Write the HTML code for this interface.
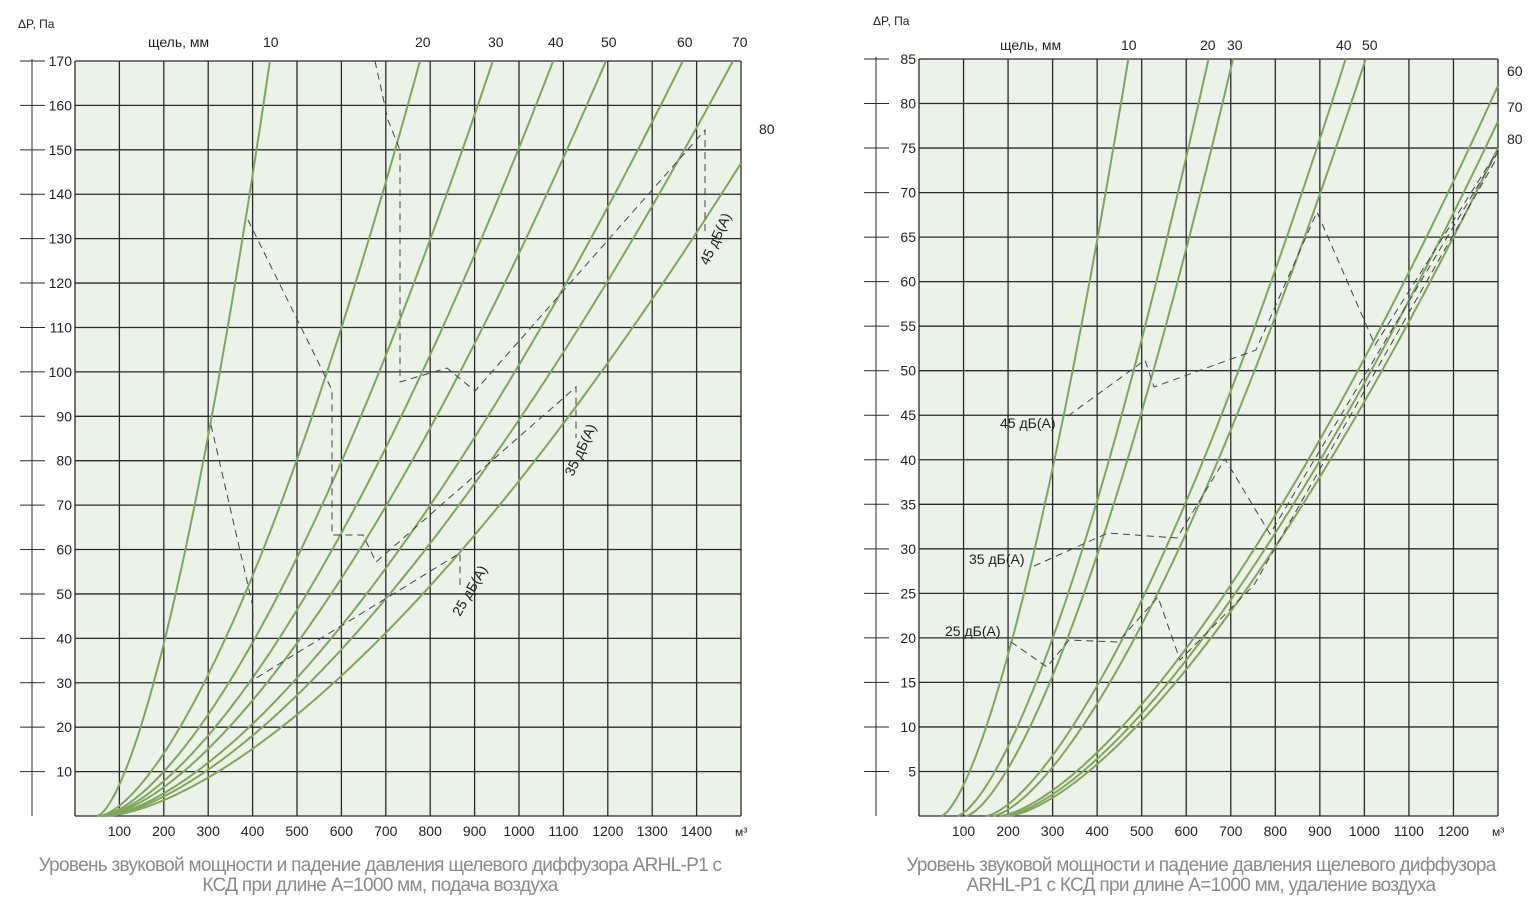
<!DOCTYPE html>
<html><head><meta charset="utf-8"><style>
html,body{margin:0;padding:0;background:#fff;}
svg{display:block;font-family:"Liberation Sans",Arial,sans-serif;}
.t{font-size:14px;fill:#222;}
.s{font-size:12px;fill:#222;}
.cap{font-size:19px;fill:#8a8a8a;letter-spacing:-0.7px;}
</style></head><body>
<svg id="c" width="1536" height="909" viewBox="0 0 1536 909" xmlns="http://www.w3.org/2000/svg">
<rect x="75" y="61" width="666" height="755" fill="#ebf2e8"/>
<rect x="919" y="59" width="579" height="757" fill="#ebf2e8"/>
<g id="grid" stroke="#2a2a2a" stroke-width="1.3" fill="none"></g>
<g id="curves" stroke="#7ea65e" stroke-width="2" fill="none"></g>
<g id="dash" stroke="#444" stroke-width="1" fill="none" stroke-dasharray="7,5">
<polyline points="375,61 388,120 400,150 400,382 447,368 475,391 705,130 705,232"/>
<polyline points="248,220 332,390 332,535 363,535 376,562 576,387 576,438"/>
<polyline points="211,425 253,607 253,680 460,553 460,585"/>
<polyline points="1068,416 1145,360 1154,387 1256,350 1317,212 1375,345 1498,150"/>
<polyline points="1034,566 1108,533 1177,538 1225,459 1270,534 1498,152"/>
<polyline points="1011,642 1047,667 1069,640 1118,642 1158,597 1180,660 1254,585 1498,156"/>
</g>
<g class="t">
<text x="18" y="28" class="s">ΔP, Па</text>
<text x="148" y="47">щель, мм</text>
<text x="263" y="47">10</text><text x="415" y="47">20</text><text x="488" y="47">30</text><text x="548" y="47">40</text><text x="601" y="47">50</text><text x="677" y="47">60</text><text x="732" y="47">70</text>
<text x="759" y="134">80</text>
<text x="873" y="25" class="s">ΔP, Па</text>
<text x="1000" y="50">щель, мм</text>
<text x="1121" y="50">10</text><text x="1200" y="50">20</text><text x="1227" y="50">30</text><text x="1336" y="50">40</text><text x="1362" y="50">50</text>
<text x="1507" y="76">60</text><text x="1507" y="112">70</text><text x="1507" y="144">80</text>
<text x="1000" y="428">45 дБ(А)</text>
<text x="969" y="564">35 дБ(А)</text>
<text x="945" y="636">25 дБ(А)</text>
<text transform="translate(708,266) rotate(-65)">45 дБ(А)</text>
<text transform="translate(573,477) rotate(-65)">35 дБ(А)</text>
<text transform="translate(460,617) rotate(-60)">25 дБ(А)</text>
</g>
<g id="labels" class="t"></g>
<text class="cap" x="380" y="871" text-anchor="middle">Уровень звуковой мощности и падение давления щелевого диффузора ARHL-P1 с</text>
<text class="cap" x="380" y="891" text-anchor="middle">КСД при длине А=1000 мм, подача воздуха</text>
<text class="cap" x="1201" y="871" text-anchor="middle">Уровень звуковой мощности и падение давления щелевого диффузора</text>
<text class="cap" x="1201" y="891" text-anchor="middle">ARHL-P1 с КСД при длине А=1000 мм, удаление воздуха</text>
</svg>
<script>
var NS="http://www.w3.org/2000/svg";
function el(p,tag,a,txt){var e=document.createElementNS(NS,tag);for(var k in a)e.setAttribute(k,a[k]);if(txt!=null)e.textContent=txt;document.getElementById(p).appendChild(e);}
var L={x0:75,x1:741,y0:61,y1:816,qmax:1500,pmax:170};
var R={x0:919,x1:1498,y0:59,y1:816,qmax:1300,pmax:85};
function grid(C,nq,np,axisX,pstep,qstep){
 for(var i=0;i<=nq;i++){var x=C.x0+(C.x1-C.x0)*i/nq;el("grid","line",{x1:x,y1:C.y0,x2:x,y2:C.y1});
  if(i>0&&i<nq)el("labels","text",{x:x,y:C.y1+20,"text-anchor":"middle"},String(i*qstep));}
 el("labels","text",{x:C.x1-6,y:C.y1+20,"font-size":"12"},"м³");
 for(var j=0;j<=np;j++){var y=C.y1-(C.y1-C.y0)*j/np;el("grid","line",{x1:C.x0,y1:y,x2:C.x1,y2:y});
  if(j>0){el("grid","line",{x1:axisX-12,y1:y,x2:axisX+13,y2:y,"stroke-width":"1"});
  el("labels","text",{x:axisX+40,y:y+5,"text-anchor":"end"},String(j*pstep));}}
 el("grid","line",{x1:axisX,y1:C.y0-2,x2:axisX,y2:C.y1,"stroke-width":"1"});
}
grid(L,15,17,32,10,100);
grid(R,13,17,876,5,100);
function curve(C,q0,qt,pt,n){
 var a=pt/Math.pow(qt-q0,n),d="";
 for(var q=q0;q<=C.qmax+0.01;q+=5){var p=a*Math.pow(q-q0,n);
  var x=C.x0+(C.x1-C.x0)*q/C.qmax,y=C.y1-(C.y1-C.y0)*p/C.pmax;
  if(p>C.pmax){var qq=q0+Math.pow(C.pmax/a,1/n);x=C.x0+(C.x1-C.x0)*qq/C.qmax;y=C.y0;d+="L"+x.toFixed(1)+","+y.toFixed(1);break;}
  d+=(d?"L":"M")+x.toFixed(1)+","+y.toFixed(1);}
 el("curves","path",{d:d});
}
[[50,439,170],[55,777,170],[58,941,170],[60,1077,170],[62,1196,170],[64,1369,170],[66,1482,170],[70,1500,147]].forEach(function(c){curve(L,c[0],c[1],c[2],1.55);});
[[50,470,85],[85,650,85],[105,705,85],[150,958,85],[165,1003,85],[180,1300,82],[190,1300,78],[200,1300,75]].forEach(function(c){curve(R,c[0],c[1],c[2],1.5);});
</script>
</body></html>
